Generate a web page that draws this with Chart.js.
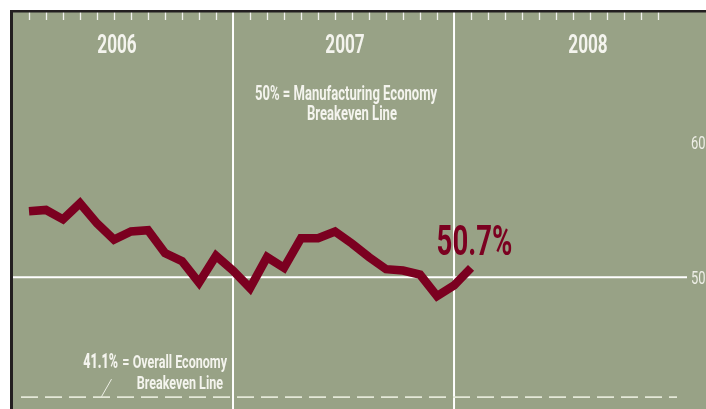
<!DOCTYPE html>
<html>
<head>
<meta charset="utf-8">
<script src="https://cdn.jsdelivr.net/npm/chart.js@4"></script>
<style>
  body { margin: 0; background: #fff; }
  #wrap { width: 706px; height: 409px; position: relative; }
</style>
</head>
<body>
<div id="wrap"><canvas id="pmiChart"></canvas></div>
<script>
// four-week periods, 13 per year
const years = ["2006", "2007", "2008"];
const periodsPerYear = 13;
const pmiValues = [54.9, 55.0, 54.3, 55.5, 54.0, 52.8, 53.4, 53.5, 51.8, 51.2, 49.6, 51.6, 50.5,
  49.2, 51.5, 50.7, 52.9, 52.9, 53.4, 52.5, 51.5, 50.6, 50.5, 50.2, 48.6, 49.4, 50.7];
const yTickLabels = [60, 50];
const mfgBreakeven = 50;
const overallBreakeven = 41.1;
const lastLabel = "50.7%";

const bg = "#98a286";
const maroon = "#7b0020";

// draw condensed text by squeezing the canvas horizontally
function squeezed(ctx, text, x, y, font, sx, align, color) {
  ctx.save();
  ctx.font = font;
  ctx.fillStyle = color;
  ctx.textBaseline = "alphabetic";
  const w = ctx.measureText(text).width * sx;
  let left = x;
  if (align === "center") left = x - w / 2;
  if (align === "right") left = x - w;
  ctx.translate(left, y);
  ctx.scale(sx, 1);
  ctx.textAlign = "left";
  ctx.fillText(text, 0, 0);
  ctx.restore();
}

const backdrop = {
  id: "backdrop",
  beforeDraw(chart) {
    const { ctx, chartArea: a, scales: { x, y } } = chart;
    ctx.save();
    ctx.fillStyle = "#fff";
    ctx.fillRect(0, 0, chart.width, chart.height);
    ctx.fillStyle = bg;
    ctx.fillRect(a.left, a.top, a.right - a.left, a.bottom - a.top);

    // period ticks along the top
    ctx.strokeStyle = "rgba(255,255,255,0.85)";
    ctx.lineWidth = 1.3;
    const totalPeriods = years.length * periodsPerYear;
    for (let k = 1; k < totalPeriods; k++) {
      if (k % periodsPerYear === 0) continue;
      const px = Math.round(x.getPixelForValue(k)) + 0.5;
      ctx.beginPath();
      ctx.moveTo(px, a.top);
      ctx.lineTo(px, a.top + 8);
      ctx.stroke();
    }

    // year separators
    ctx.strokeStyle = "#fff";
    ctx.lineWidth = 2;
    for (let i = 1; i < years.length; i++) {
      const px = x.getPixelForValue(i * periodsPerYear);
      ctx.beginPath();
      ctx.moveTo(px, a.top);
      ctx.lineTo(px, a.bottom);
      ctx.stroke();
    }

    // 50% line
    const y50 = y.getPixelForValue(mfgBreakeven);
    ctx.beginPath();
    ctx.moveTo(a.left, y50);
    ctx.lineTo(687, y50);
    ctx.stroke();

    // 41.1% dashed line
    const y41 = y.getPixelForValue(overallBreakeven);
    ctx.strokeStyle = "#e4e8d8";
    ctx.lineWidth = 1.8;
    ctx.setLineDash([17, 7]);
    ctx.beginPath();
    ctx.moveTo(a.left + 9, y41);
    ctx.lineTo(677, y41);
    ctx.stroke();
    ctx.setLineDash([]);

    // pointer stroke
    ctx.strokeStyle = "#eef0e6";
    ctx.lineWidth = 1;
    ctx.beginPath();
    ctx.moveTo(101.5, y41 - 0.5);
    ctx.lineTo(111.5, y41 - 18);
    ctx.stroke();

    // borders
    ctx.fillStyle = "#231f20";
    ctx.fillRect(10, 10, chart.width - 10, 2.5);
    ctx.fillRect(10, 10, 3, chart.height - 10);

    // year headings
    const white = "#f4f4ee";
    const headX = [117, 345, 588];
    years.forEach((yr, i) => squeezed(ctx, yr, headX[i], 53, "bold 26px Roboto", 0.66, "center", white));

    // annotations
    squeezed(ctx, "50% = Manufacturing Economy", 346, 100, "bold 19.5px Roboto", 0.67, "center", white);
    squeezed(ctx, "Breakeven Line", 352, 120, "bold 19.5px Roboto", 0.67, "center", white);

    squeezed(ctx, "41.1%", 118, 368, "900 19.5px Roboto", 0.64, "right", white);
    squeezed(ctx, "= Overall Economy", 227, 368, "bold 19px Roboto", 0.66, "right", white);
    squeezed(ctx, "Breakeven Line", 223, 389, "bold 19px Roboto", 0.66, "right", white);

    // right side value labels
    yTickLabels.forEach(v => {
      squeezed(ctx, String(v), 691, y.getPixelForValue(v) + 6.5, "18px Roboto", 0.72, "left", "#eeeee6");
    });
    ctx.restore();
  },
  afterDatasetsDraw(chart) {
    const { ctx, scales: { x, y } } = chart;
    const n = pmiValues.length;
    const px = x.getPixelForValue(n + 0.2);
    const py = y.getPixelForValue(pmiValues[n - 1]) - 13;
    squeezed(ctx, lastLabel, px, py, "bold 43px Roboto", 0.64, "center", maroon);
  }
};

new Chart(document.getElementById("pmiChart").getContext("2d"), {
  type: "line",
  data: {
    datasets: [{
      data: pmiValues.map((v, i) => ({ x: i + 1, y: v })),
      borderColor: maroon,
      borderWidth: 8.5,
      borderJoinStyle: "miter",
      borderCapStyle: "butt",
      pointRadius: 0,
      tension: 0,
      fill: false
    }]
  },
  plugins: [backdrop],
  options: {
    responsive: true,
    maintainAspectRatio: false,
    animation: false,
    layout: { padding: { left: 12, top: 12, right: 0, bottom: 0 } },
    plugins: { legend: { display: false }, tooltip: { enabled: false } },
    scales: {
      x: { type: "linear", min: 0, max: 40.82, display: false },
      y: { min: 40.22, max: 69.7, display: false }
    }
  }
});
</script>
</body>
</html>
